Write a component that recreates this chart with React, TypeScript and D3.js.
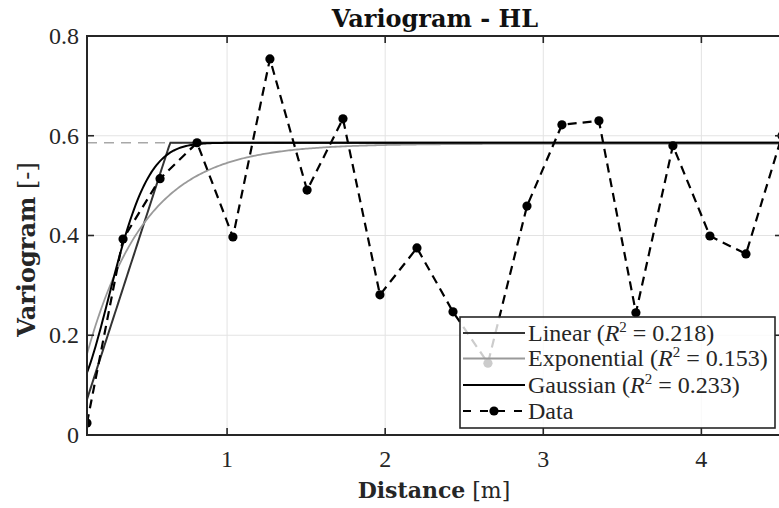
import React from 'react';
import * as d3 from 'd3';

// ---- data ----
const distance = [0.114, 0.342, 0.576, 0.81, 1.037, 1.271, 1.506, 1.733, 1.967, 2.201, 2.429, 2.65, 2.897, 3.118, 3.352, 3.586, 3.82, 4.054, 4.282, 4.51];
const gammaData = [0.024, 0.393, 0.514, 0.586, 0.397, 0.754, 0.491, 0.634, 0.281, 0.375, 0.247, 0.144, 0.459, 0.622, 0.63, 0.245, 0.58, 0.399, 0.363, 0.6];
const xTicks = [1, 2, 3, 4];
const xTickLabels = ['1', '2', '3', '4'];
const yTicks = [0, 0.2, 0.4, 0.6, 0.8];
const yTickLabels = ['0', '0.2', '0.4', '0.6', '0.8'];
const sillLevel = 0.586;

// fitted model parameters
const linearFit = { nugget: -0.04, sill: 0.586, range: 0.64 };
const exponentialFit = { nugget: 0.01, sill: 0.584, range: 0.37 };
const gaussianFit = { nugget: 0.075, sill: 0.586, range: 0.355 };

const modelNames = ['Linear', 'Exponential', 'Gaussian'];
const rSquared = ['0.218', '0.153', '0.233'];
const modelColors = ['#333333', '#9a9a9a', '#000000'];
const modelWidths = [2, 1.8, 2];

const W = 779;
const H = 508;
const M = { left: 87, top: 36, right: 782, bottom: 435 };
const SERIF = "'Liberation Serif', 'Times New Roman', serif";
const SERIF2 = "'DejaVu Serif', serif";

const linearModel = (h: number) =>
  h < linearFit.range ? linearFit.nugget + (linearFit.sill - linearFit.nugget) * (h / linearFit.range) : linearFit.sill;
const exponentialModel = (h: number) =>
  exponentialFit.nugget + (exponentialFit.sill - exponentialFit.nugget) * (1 - Math.exp(-h / exponentialFit.range));
const gaussianModel = (h: number) =>
  gaussianFit.nugget + (gaussianFit.sill - gaussianFit.nugget) * (1 - Math.exp(-Math.pow(h / gaussianFit.range, 2)));
const modelFns = [linearModel, exponentialModel, gaussianModel];

export default function App() {
  const x = d3.scaleLinear().domain([d3.min(distance)!, d3.max(distance)!]).range([M.left, M.right]);
  const y = d3.scaleLinear().domain([0, 0.8]).range([M.bottom, M.top]);
  const [x0, x1] = x.domain();
  const hs = d3.range(0, 401).map((i) => x0 + ((x1 - x0) * i) / 400);
  const line = d3.line<[number, number]>().x((d) => x(d[0])).y((d) => y(d[1]));
  const dataLine = d3.line<number>().x((_, i) => x(distance[i])).y((d) => y(d));

  const axisColor = '#262626';
  const tickLen = 7;
  const legend = { x: 460, y: 317, w: 315, h: 111 };
  const rowY = [333, 358.5, 385, 411];

  return (
    <div style={{ position: 'fixed', left: 0, top: 0 }}>
      <svg width={W} height={H} style={{ display: 'block', background: '#fff' }}>
        <defs>
          <clipPath id="plot">
            <rect x={M.left} y={M.top} width={M.right - M.left} height={M.bottom - M.top} />
          </clipPath>
        </defs>
        {/* grid */}
        <g stroke="#e3e3e3" strokeWidth={1}>
          {xTicks.map((t) => (
            <line key={'gx' + t} x1={x(t)} x2={x(t)} y1={M.top} y2={M.bottom} />
          ))}
          {yTicks.map((t) => (
            <line key={'gy' + t} x1={M.left} x2={M.right} y1={y(t)} y2={y(t)} />
          ))}
        </g>
        <g clipPath="url(#plot)">
          {/* sill reference */}
          <line x1={M.left} x2={M.right} y1={y(sillLevel)} y2={y(sillLevel)} stroke="#a8a8a8" strokeWidth={1.6} strokeDasharray="10,7" />
          {modelFns.map((f, i) => (
            <path key={modelNames[i]} d={line(hs.map((h) => [h, f(h)]))!} fill="none" stroke={modelColors[i]} strokeWidth={modelWidths[i]} />
          ))}
          <path d={dataLine(gammaData)!} fill="none" stroke="#000" strokeWidth={2.2} strokeDasharray="9,6" />
          {gammaData.map((v, i) => (
            <circle key={'p' + i} cx={x(distance[i])} cy={y(v)} r={4.6} fill="#000" />
          ))}
        </g>
        {/* axes box */}
        <rect x={M.left} y={M.top} width={M.right - M.left} height={M.bottom - M.top} fill="none" stroke={axisColor} strokeWidth={2} />
        <g stroke={axisColor} strokeWidth={1.6}>
          {xTicks.map((t) => (
            <g key={'tx' + t}>
              <line x1={x(t)} x2={x(t)} y1={M.bottom} y2={M.bottom - tickLen} />
              <line x1={x(t)} x2={x(t)} y1={M.top} y2={M.top + tickLen} />
            </g>
          ))}
          {yTicks.map((t) => (
            <g key={'ty' + t}>
              <line x1={M.left} x2={M.left + tickLen} y1={y(t)} y2={y(t)} />
              <line x1={M.right} x2={M.right - tickLen} y1={y(t)} y2={y(t)} />
            </g>
          ))}
        </g>
        {/* tick labels */}
        <g fontFamily={SERIF} fontSize={24} fill="#262626">
          {xTicks.map((t, i) => (
            <text key={'lx' + t} x={x(t)} y={467} textAnchor="middle">{xTickLabels[i]}</text>
          ))}
          {yTicks.map((t, i) => (
            <text key={'ly' + t} x={79} y={y(t)} dy="0.33em" textAnchor="end">{yTickLabels[i]}</text>
          ))}
        </g>
        {/* title and labels */}
        <text x={435} y={27} textAnchor="middle" fontFamily={SERIF2} fontWeight="bold" fontSize={24} fill="#111">Variogram - HL</text>
        <text x={434} y={498} textAnchor="middle" fontFamily={SERIF2} fontSize={22} fill="#262626">
          <tspan fontWeight="bold">Distance</tspan>
          <tspan> [m]</tspan>
        </text>
        <text transform="translate(35,249.5) rotate(-90)" textAnchor="middle" fontFamily={SERIF2} fontSize={24} fill="#262626">
          <tspan fontWeight="bold">Variogram</tspan>
          <tspan> [-]</tspan>
        </text>
        {/* legend */}
        <g>
          <rect x={legend.x} y={legend.y} width={legend.w} height={legend.h} fill="#fff" fillOpacity={0.8} stroke={axisColor} strokeWidth={1.6} />
          {modelNames.map((n, i) => (
            <g key={'lg' + n}>
              <line x1={463} x2={525} y1={rowY[i]} y2={rowY[i]} stroke={modelColors[i]} strokeWidth={modelWidths[i]} />
              <text x={528} y={rowY[i]} dy="0.33em" fontFamily={SERIF} fontSize={24} fill="#262626">
                {n + ' ('}
                <tspan fontStyle="italic">R</tspan>
                <tspan fontSize={15} dy="-9">2</tspan>
                <tspan dy="9">{' = ' + rSquared[i] + ')'}</tspan>
              </text>
            </g>
          ))}
          <line x1={463} x2={525} y1={rowY[3]} y2={rowY[3]} stroke="#000" strokeWidth={2.2} strokeDasharray="8,9" />
          <circle cx={494} cy={rowY[3]} r={4.6} fill="#000" />
          <text x={528} y={rowY[3]} dy="0.33em" fontFamily={SERIF} fontSize={24} fill="#262626">Data</text>
        </g>
      </svg>
    </div>
  );
}
